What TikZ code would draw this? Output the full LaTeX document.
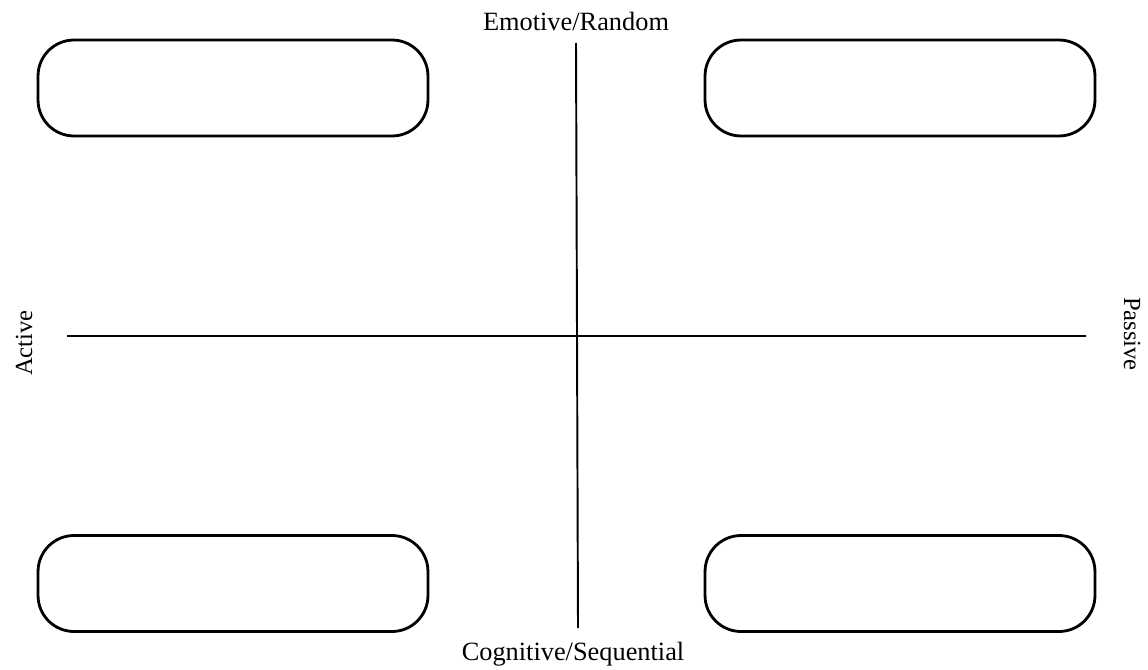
\documentclass[tikz,border=0pt]{standalone}
\usepackage{fontspec}
\setmainfont{Liberation Serif}

\tikzset{
    quadbox/.style={draw, line width=1.6pt, rounded corners=0.72cm,
        minimum width=7.8cm, minimum height=1.92cm},
    axis/.style={line width=1.1pt},
    axislabel/.style={font=\fontsize{15}{18}\selectfont, inner sep=0pt},
}

\begin{document}
\begin{tikzpicture}[x=0.02cm, y=-0.02cm]
    \useasboundingbox (0, 0) rectangle (1148, 669);
    \foreach \n/\x/\y in {
        topleft/233/88,
        topright/900/88,
        bottomleft/233/583.5,
        bottomright/900/583.5
    } {
        \node[quadbox] (\n) at (\x, \y) {};
    };
    \coordinate (top) at (576, 43);
    \coordinate (bottom) at (578, 628);
    \coordinate (left) at (67, 336);
    \coordinate (right) at (1086, 336);
    \draw[axis]
        (top) -- (bottom)
        (left) -- (right);
    \node[axislabel, anchor=base] (emotive) at (576, 31) {Emotive/Random};
    \node[axislabel, anchor=base] (cognitive) at (573, 660) {Cognitive/Sequential};
    \node[axislabel, font=\fontsize{14}{17}\selectfont, anchor=base, rotate=90]
        (active) at (32, 343) {Active};
    \node[axislabel, font=\fontsize{14}{17}\selectfont, anchor=base, rotate=-90]
        (passive) at (1124, 334) {Passive};
\end{tikzpicture}
\end{document}
